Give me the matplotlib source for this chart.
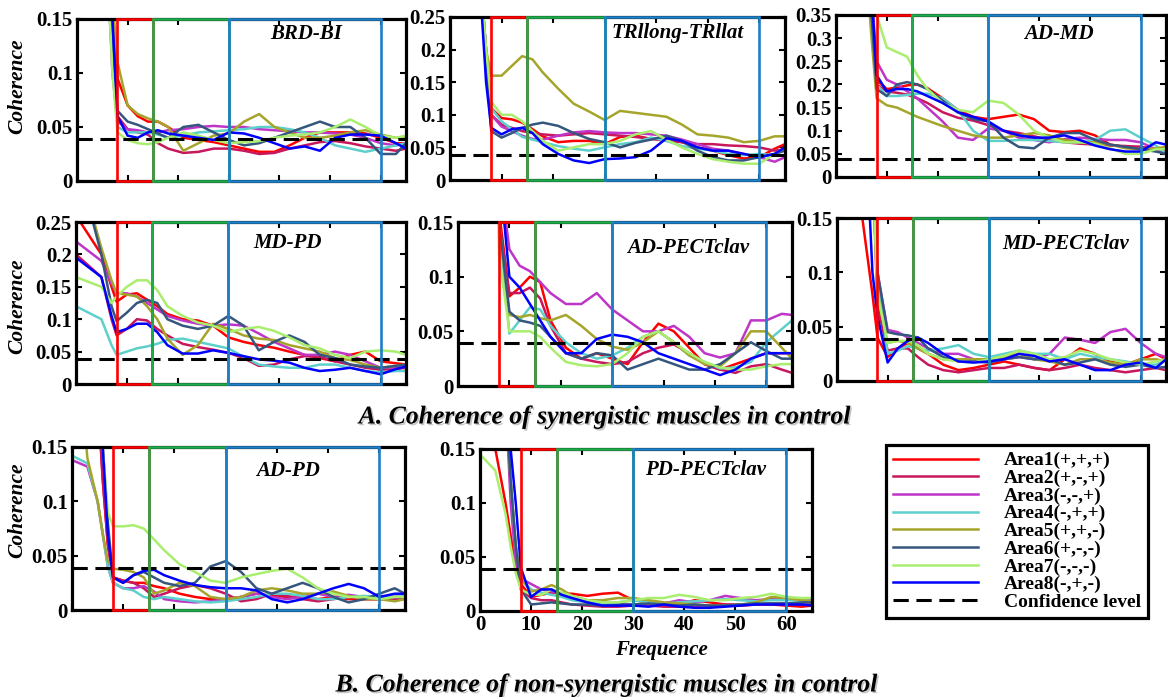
import numpy as np
import matplotlib
matplotlib.use('Agg')
import matplotlib.pyplot as plt
from matplotlib.patches import Rectangle
from matplotlib.lines import Line2D
from matplotlib import patheffects

plt.rcParams['font.family'] = ['Liberation Serif', 'DejaVu Serif']
plt.rcParams['font.weight'] = 'bold'

# legend entries and colours
area_labels = ['Area1(+,+,+)', 'Area2(+,-,+)', 'Area3(-,-,+)', 'Area4(-,+,+)',
               'Area5(+,+,-)', 'Area6(+,-,-)', 'Area7(-,-,-)', 'Area8(-,+,-)']
area_colors = ['#FF0000', '#C8175D', '#BE35C8', '#5ED0CC',
               '#A6A52B', '#35567E', '#A9EE6E', '#0000FF']
conf_level = 0.039

# frequency bands (Hz) drawn as boxes
bands = [(8, 15, '#FF0000'), (15, 30, '#1FAA4C'), (30, 60, '#1E7EC6')]

freq_a = [0, 5, 7, 8, 10, 12, 14, 16, 18, 21, 24, 27, 30, 33, 36, 39, 42, 45, 48, 51, 54, 57, 60, 63, 65]
freq_b = [0, 3, 5, 6, 7, 8, 10, 12, 14, 16, 18, 21, 24, 27, 30, 33, 36, 39, 42, 45, 48, 51, 54, 57, 60, 63, 65]

# coherence curves, one row per area (Area1..Area8)
brd_bi = [
    [0.6, 0.35, 0.16, 0.095, 0.07, 0.06, 0.055, 0.055, 0.05, 0.04, 0.038, 0.036, 0.033, 0.03, 0.027, 0.027, 0.033, 0.04, 0.045, 0.045, 0.045, 0.044, 0.04, 0.035, 0.035],
    [0.6, 0.35, 0.15, 0.06, 0.048, 0.045, 0.043, 0.035, 0.03, 0.026, 0.027, 0.03, 0.03, 0.028, 0.025, 0.026, 0.03, 0.033, 0.036, 0.037, 0.035, 0.032, 0.03, 0.028, 0.03],
    [0.6, 0.3, 0.1, 0.055, 0.048, 0.047, 0.045, 0.045, 0.047, 0.048, 0.05, 0.051, 0.05, 0.05, 0.048, 0.047, 0.046, 0.045, 0.045, 0.044, 0.043, 0.04, 0.035, 0.033, 0.035],
    [0.6, 0.3, 0.12, 0.05, 0.045, 0.045, 0.045, 0.043, 0.04, 0.042, 0.045, 0.046, 0.047, 0.048, 0.05, 0.05, 0.048, 0.045, 0.04, 0.033, 0.03, 0.027, 0.03, 0.033, 0.035],
    [0.6, 0.35, 0.17, 0.11, 0.07, 0.062, 0.058, 0.055, 0.05, 0.028, 0.035, 0.042, 0.044, 0.055, 0.062, 0.05, 0.045, 0.04, 0.04, 0.042, 0.045, 0.047, 0.043, 0.04, 0.04],
    [0.6, 0.3, 0.13, 0.065, 0.055, 0.052, 0.048, 0.044, 0.04, 0.05, 0.052, 0.045, 0.038, 0.033, 0.035, 0.04, 0.045, 0.05, 0.055, 0.05, 0.05, 0.04, 0.025, 0.025, 0.035],
    [0.6, 0.3, 0.1, 0.045, 0.038, 0.035, 0.034, 0.036, 0.04, 0.045, 0.042, 0.038, 0.035, 0.036, 0.037, 0.04, 0.042, 0.043, 0.045, 0.05, 0.057, 0.05, 0.042, 0.04, 0.042],
    [0.6, 0.35, 0.15, 0.06, 0.042, 0.04, 0.045, 0.047, 0.044, 0.042, 0.04, 0.038, 0.045, 0.044, 0.04, 0.035, 0.03, 0.032, 0.028, 0.04, 0.043, 0.043, 0.042, 0.035, 0.03],
]
trllong_trllat = [
    [0.6, 0.4, 0.2, 0.11, 0.095, 0.093, 0.088, 0.078, 0.067, 0.058, 0.06, 0.06, 0.055, 0.066, 0.068, 0.063, 0.065, 0.058, 0.05, 0.045, 0.038, 0.033, 0.035, 0.048, 0.055],
    [0.6, 0.4, 0.18, 0.1, 0.085, 0.08, 0.075, 0.072, 0.07, 0.068, 0.07, 0.072, 0.07, 0.068, 0.066, 0.063, 0.06, 0.058, 0.055, 0.055, 0.053, 0.052, 0.05, 0.045, 0.047],
    [0.6, 0.4, 0.2, 0.1, 0.082, 0.075, 0.068, 0.063, 0.062, 0.068, 0.073, 0.075, 0.073, 0.072, 0.072, 0.07, 0.068, 0.062, 0.055, 0.048, 0.045, 0.04, 0.035, 0.028, 0.035],
    [0.6, 0.4, 0.2, 0.11, 0.09, 0.078, 0.066, 0.062, 0.058, 0.052, 0.048, 0.045, 0.05, 0.055, 0.058, 0.065, 0.06, 0.052, 0.048, 0.045, 0.04, 0.038, 0.04, 0.038, 0.037],
    [0.6, 0.4, 0.2, 0.16, 0.16, 0.175, 0.19, 0.185, 0.165, 0.14, 0.117, 0.105, 0.092, 0.106, 0.103, 0.1, 0.097, 0.085, 0.07, 0.068, 0.065, 0.058, 0.06, 0.067, 0.067],
    [0.6, 0.4, 0.18, 0.075, 0.065, 0.072, 0.08, 0.085, 0.088, 0.083, 0.072, 0.063, 0.058, 0.05, 0.057, 0.062, 0.068, 0.06, 0.045, 0.035, 0.03, 0.03, 0.035, 0.04, 0.045],
    [0.6, 0.4, 0.2, 0.12, 0.1, 0.1, 0.09, 0.075, 0.06, 0.045, 0.05, 0.055, 0.055, 0.06, 0.07, 0.075, 0.062, 0.05, 0.04, 0.032, 0.028, 0.025, 0.025, 0.04, 0.05],
    [0.6, 0.4, 0.15, 0.08, 0.07, 0.078, 0.08, 0.072, 0.055, 0.04, 0.03, 0.026, 0.032, 0.033, 0.035, 0.045, 0.064, 0.06, 0.05, 0.045, 0.045, 0.04, 0.035, 0.04, 0.05],
]
ad_md = [
    [0.8, 0.6, 0.35, 0.21, 0.19, 0.193, 0.198, 0.2, 0.192, 0.17, 0.145, 0.13, 0.125, 0.13, 0.135, 0.125, 0.1, 0.097, 0.1, 0.09, 0.07, 0.065, 0.065, 0.06, 0.055],
    [0.8, 0.6, 0.35, 0.2, 0.185, 0.182, 0.178, 0.17, 0.16, 0.14, 0.128, 0.122, 0.112, 0.1, 0.095, 0.088, 0.08, 0.075, 0.072, 0.07, 0.068, 0.067, 0.065, 0.06, 0.055],
    [0.8, 0.6, 0.4, 0.25, 0.21, 0.2, 0.185, 0.17, 0.15, 0.12, 0.085, 0.08, 0.105, 0.1, 0.085, 0.08, 0.075, 0.082, 0.085, 0.082, 0.08, 0.08, 0.075, 0.06, 0.05],
    [0.8, 0.6, 0.35, 0.2, 0.175, 0.175, 0.177, 0.18, 0.18, 0.17, 0.145, 0.1, 0.078, 0.078, 0.08, 0.08, 0.078, 0.075, 0.075, 0.08, 0.1, 0.103, 0.085, 0.068, 0.05],
    [0.8, 0.6, 0.3, 0.17, 0.155, 0.15, 0.14, 0.13, 0.122, 0.11, 0.1, 0.09, 0.085, 0.085, 0.09, 0.095, 0.09, 0.08, 0.075, 0.075, 0.07, 0.062, 0.06, 0.062, 0.065],
    [0.8, 0.6, 0.35, 0.19, 0.175, 0.2, 0.205, 0.2, 0.19, 0.165, 0.14, 0.125, 0.12, 0.085, 0.065, 0.062, 0.085, 0.095, 0.095, 0.08, 0.07, 0.065, 0.06, 0.055, 0.05],
    [0.8, 0.6, 0.45, 0.35, 0.28, 0.27, 0.26, 0.22, 0.19, 0.16, 0.145, 0.14, 0.165, 0.16, 0.135, 0.1, 0.085, 0.075, 0.075, 0.072, 0.062, 0.05, 0.05, 0.06, 0.06],
    [0.8, 0.6, 0.4, 0.22, 0.185, 0.19, 0.19, 0.185, 0.175, 0.16, 0.14, 0.13, 0.12, 0.1, 0.09, 0.085, 0.085, 0.09, 0.08, 0.068, 0.06, 0.055, 0.055, 0.075, 0.07],
]
md_pd = [
    [0.26, 0.2, 0.15, 0.127, 0.138, 0.14, 0.13, 0.12, 0.108, 0.1, 0.098, 0.09, 0.072, 0.065, 0.06, 0.056, 0.05, 0.045, 0.04, 0.035, 0.045, 0.05, 0.035, 0.032, 0.03],
    [0.2, 0.165, 0.1, 0.075, 0.085, 0.1, 0.098, 0.085, 0.075, 0.062, 0.057, 0.053, 0.048, 0.04, 0.028, 0.03, 0.038, 0.043, 0.042, 0.035, 0.03, 0.025, 0.022, 0.023, 0.025],
    [0.22, 0.19, 0.155, 0.14, 0.14, 0.135, 0.125, 0.115, 0.105, 0.098, 0.093, 0.09, 0.092, 0.09, 0.078, 0.065, 0.055, 0.045, 0.045, 0.05, 0.045, 0.035, 0.025, 0.025, 0.028],
    [0.12, 0.1, 0.06, 0.045, 0.05, 0.055, 0.058, 0.062, 0.068, 0.07, 0.065, 0.06, 0.055, 0.042, 0.03, 0.027, 0.025, 0.025, 0.03, 0.03, 0.025, 0.02, 0.018, 0.02, 0.02],
    [0.35, 0.21, 0.16, 0.14, 0.138, 0.135, 0.12, 0.1, 0.07, 0.045, 0.06, 0.093, 0.085, 0.075, 0.07, 0.068, 0.06, 0.055, 0.05, 0.04, 0.037, 0.03, 0.025, 0.028, 0.03],
    [0.35, 0.2, 0.12, 0.097, 0.11, 0.125, 0.13, 0.125, 0.1, 0.09, 0.085, 0.09, 0.105, 0.09, 0.052, 0.065, 0.075, 0.065, 0.045, 0.04, 0.03, 0.027, 0.025, 0.028, 0.03],
    [0.165, 0.15, 0.125, 0.135, 0.15, 0.16, 0.16, 0.145, 0.12, 0.105, 0.095, 0.09, 0.08, 0.085, 0.088, 0.082, 0.072, 0.06, 0.055, 0.045, 0.04, 0.05, 0.052, 0.05, 0.045],
    [0.195, 0.165, 0.105, 0.08, 0.085, 0.093, 0.093, 0.08, 0.06, 0.047, 0.047, 0.052, 0.048, 0.043, 0.038, 0.036, 0.033, 0.025, 0.02, 0.022, 0.025, 0.02, 0.015, 0.023, 0.027],
]
ad_pectclav = [
    [0.6, 0.5, 0.3, 0.16, 0.082, 0.09, 0.1, 0.095, 0.06, 0.035, 0.025, 0.03, 0.025, 0.02, 0.04, 0.057, 0.05, 0.035, 0.02, 0.015, 0.02, 0.025, 0.03, 0.03, 0.03],
    [0.6, 0.5, 0.3, 0.15, 0.085, 0.085, 0.09, 0.08, 0.055, 0.03, 0.025, 0.022, 0.02, 0.022, 0.03, 0.035, 0.038, 0.03, 0.02, 0.015, 0.012, 0.018, 0.02, 0.015, 0.012],
    [0.6, 0.5, 0.3, 0.2, 0.125, 0.11, 0.105, 0.095, 0.085, 0.075, 0.075, 0.085, 0.07, 0.06, 0.05, 0.05, 0.055, 0.045, 0.03, 0.026, 0.03, 0.06, 0.06, 0.066, 0.065],
    [0.6, 0.5, 0.3, 0.15, 0.048, 0.06, 0.072, 0.07, 0.055, 0.04, 0.03, 0.025, 0.028, 0.035, 0.045, 0.05, 0.04, 0.028, 0.022, 0.016, 0.017, 0.022, 0.04, 0.052, 0.06],
    [0.6, 0.5, 0.3, 0.15, 0.065, 0.063, 0.065, 0.062, 0.06, 0.065, 0.055, 0.043, 0.036, 0.033, 0.04, 0.05, 0.04, 0.028, 0.02, 0.018, 0.03, 0.05, 0.05, 0.035, 0.025],
    [0.6, 0.5, 0.3, 0.15, 0.068, 0.06, 0.058, 0.055, 0.045, 0.03, 0.025, 0.03, 0.028, 0.015, 0.02, 0.025, 0.02, 0.015, 0.015, 0.02, 0.03, 0.04, 0.032, 0.025, 0.025],
    [0.6, 0.5, 0.3, 0.12, 0.05, 0.05, 0.05, 0.045, 0.035, 0.022, 0.019, 0.018, 0.02, 0.03, 0.045, 0.05, 0.04, 0.03, 0.022, 0.017, 0.015, 0.015, 0.018, 0.02, 0.02],
    [0.6, 0.5, 0.4, 0.2, 0.1, 0.09, 0.075, 0.06, 0.045, 0.03, 0.03, 0.043, 0.047, 0.045, 0.04, 0.03, 0.025, 0.02, 0.015, 0.01, 0.015, 0.025, 0.03, 0.03, 0.03],
]
md_pectclav = [
    [0.6, 0.15, 0.08, 0.04, 0.022, 0.03, 0.035, 0.03, 0.025, 0.015, 0.01, 0.012, 0.015, 0.018, 0.015, 0.012, 0.01, 0.02, 0.03, 0.025, 0.018, 0.015, 0.02, 0.025, 0.02],
    [0.6, 0.4, 0.2, 0.07, 0.028, 0.03, 0.03, 0.022, 0.015, 0.01, 0.008, 0.01, 0.012, 0.012, 0.015, 0.012, 0.01, 0.012, 0.015, 0.012, 0.01, 0.008, 0.01, 0.012, 0.01],
    [0.6, 0.4, 0.2, 0.1, 0.047, 0.045, 0.04, 0.035, 0.03, 0.025, 0.025, 0.02, 0.018, 0.02, 0.022, 0.02, 0.025, 0.04, 0.038, 0.035, 0.045, 0.048, 0.035, 0.025, 0.022],
    [0.6, 0.4, 0.2, 0.1, 0.025, 0.028, 0.032, 0.03, 0.028, 0.03, 0.033, 0.025, 0.022, 0.025, 0.028, 0.025, 0.025, 0.02, 0.025, 0.022, 0.02, 0.018, 0.015, 0.015, 0.02],
    [0.6, 0.4, 0.2, 0.08, 0.035, 0.037, 0.035, 0.03, 0.025, 0.02, 0.02, 0.02, 0.02, 0.022, 0.025, 0.02, 0.018, 0.015, 0.02, 0.02, 0.017, 0.015, 0.02, 0.02, 0.018],
    [0.6, 0.4, 0.2, 0.1, 0.045, 0.043, 0.042, 0.04, 0.03, 0.022, 0.018, 0.018, 0.017, 0.02, 0.022, 0.02, 0.02, 0.015, 0.017, 0.02, 0.015, 0.013, 0.015, 0.012, 0.013],
    [0.6, 0.4, 0.2, 0.08, 0.035, 0.037, 0.037, 0.033, 0.025, 0.02, 0.018, 0.017, 0.02, 0.023, 0.028, 0.025, 0.02, 0.022, 0.028, 0.025, 0.02, 0.017, 0.015, 0.018, 0.02],
    [0.6, 0.3, 0.1, 0.06, 0.017, 0.03, 0.037, 0.04, 0.035, 0.025, 0.018, 0.017, 0.018, 0.02, 0.025, 0.023, 0.018, 0.02, 0.015, 0.01, 0.01, 0.015, 0.017, 0.012, 0.02],
]
ad_pd = [
    [0.4, 0.3, 0.2, 0.12, 0.06, 0.03, 0.027, 0.025, 0.025, 0.022, 0.02, 0.015, 0.012, 0.01, 0.01, 0.012, 0.015, 0.013, 0.012, 0.012, 0.01, 0.012, 0.01, 0.01, 0.01, 0.012, 0.012],
    [0.4, 0.3, 0.2, 0.12, 0.06, 0.03, 0.027, 0.025, 0.02, 0.012, 0.015, 0.02, 0.023, 0.02, 0.015, 0.008, 0.01, 0.015, 0.013, 0.01, 0.008, 0.01, 0.012, 0.01, 0.01, 0.01, 0.01],
    [0.138, 0.132, 0.1, 0.07, 0.04, 0.025, 0.02, 0.02, 0.022, 0.017, 0.01, 0.008, 0.007, 0.008, 0.01, 0.012, 0.015, 0.012, 0.01, 0.012, 0.015, 0.012, 0.014, 0.012, 0.013, 0.012, 0.012],
    [0.142, 0.135, 0.1, 0.07, 0.04, 0.025, 0.02, 0.018, 0.012, 0.01, 0.012, 0.01, 0.008, 0.007, 0.008, 0.01, 0.012, 0.015, 0.015, 0.013, 0.01, 0.01, 0.012, 0.013, 0.012, 0.012, 0.013],
    [0.3, 0.14, 0.1, 0.07, 0.045, 0.038, 0.037, 0.035, 0.03, 0.015, 0.018, 0.025, 0.022, 0.012, 0.01, 0.012, 0.018, 0.02, 0.018, 0.015, 0.015, 0.017, 0.013, 0.01, 0.01, 0.008, 0.01],
    [0.4, 0.3, 0.25, 0.15, 0.08, 0.03, 0.025, 0.032, 0.035, 0.03, 0.025, 0.022, 0.025, 0.04, 0.045, 0.035, 0.02, 0.015, 0.02, 0.025, 0.02, 0.012, 0.007, 0.01, 0.015, 0.02, 0.015],
    [0.5, 0.4, 0.3, 0.15, 0.09, 0.077, 0.077, 0.078, 0.075, 0.065, 0.055, 0.042, 0.035, 0.027, 0.025, 0.03, 0.033, 0.036, 0.038, 0.03, 0.02, 0.015, 0.012, 0.012, 0.01, 0.012, 0.012],
    [0.4, 0.3, 0.25, 0.15, 0.07, 0.03, 0.025, 0.032, 0.036, 0.037, 0.032, 0.027, 0.023, 0.021, 0.02, 0.02, 0.018, 0.01, 0.007, 0.01, 0.015, 0.02, 0.024, 0.02, 0.012, 0.015, 0.015],
]
pd_pectclav = [
    [0.3, 0.15, 0.1, 0.07, 0.04, 0.025, 0.013, 0.015, 0.017, 0.016, 0.016, 0.014, 0.016, 0.017, 0.01, 0.008, 0.005, 0.006, 0.01, 0.008, 0.006, 0.005, 0.006, 0.006, 0.005, 0.004, 0.005],
    [0.5, 0.3, 0.2, 0.12, 0.06, 0.02, 0.012, 0.01, 0.01, 0.008, 0.006, 0.005, 0.004, 0.004, 0.005, 0.005, 0.004, 0.004, 0.005, 0.005, 0.006, 0.006, 0.006, 0.007, 0.007, 0.006, 0.006],
    [0.5, 0.3, 0.2, 0.1, 0.045, 0.03, 0.025, 0.02, 0.018, 0.015, 0.012, 0.01, 0.008, 0.007, 0.006, 0.006, 0.007, 0.01, 0.008, 0.01, 0.014, 0.012, 0.01, 0.011, 0.012, 0.011, 0.01],
    [0.5, 0.3, 0.2, 0.12, 0.06, 0.03, 0.02, 0.017, 0.015, 0.013, 0.01, 0.008, 0.007, 0.008, 0.01, 0.008, 0.007, 0.008, 0.009, 0.01, 0.011, 0.01, 0.009, 0.01, 0.01, 0.01, 0.009],
    [0.5, 0.3, 0.2, 0.12, 0.06, 0.03, 0.018, 0.02, 0.024, 0.02, 0.014, 0.01, 0.01, 0.012, 0.012, 0.01, 0.008, 0.007, 0.006, 0.005, 0.005, 0.006, 0.008, 0.013, 0.012, 0.01, 0.009],
    [0.5, 0.3, 0.2, 0.12, 0.06, 0.02, 0.006, 0.007, 0.008, 0.007, 0.006, 0.006, 0.005, 0.006, 0.006, 0.007, 0.006, 0.005, 0.006, 0.005, 0.005, 0.006, 0.007, 0.007, 0.007, 0.008, 0.008],
    [0.145, 0.13, 0.09, 0.06, 0.035, 0.02, 0.015, 0.015, 0.02, 0.017, 0.014, 0.01, 0.008, 0.008, 0.01, 0.012, 0.012, 0.015, 0.013, 0.01, 0.01, 0.012, 0.013, 0.016, 0.013, 0.012, 0.012],
    [0.6, 0.4, 0.25, 0.15, 0.1, 0.04, 0.013, 0.02, 0.02, 0.015, 0.012, 0.008, 0.005, 0.005, 0.005, 0.004, 0.006, 0.004, 0.003, 0.003, 0.004, 0.005, 0.006, 0.006, 0.006, 0.006, 0.005],
]

# layout in pixels of the 1168x697 canvas: (left, top, right, bottom)
W, H = 1168, 697
panels = [
    ('BRD-BI', brd_bi, freq_a, 0.15, (77, 19, 406, 181), (0.695, 0.91)),
    ('TRllong-TRllat', trllong_trllat, freq_a, 0.25, (450, 17, 785, 180), (0.68, 0.90)),
    ('AD-MD', ad_md, freq_a, 0.35, (836, 15, 1166, 177), (0.675, 0.88)),
    ('MD-PD', md_pd, freq_a, 0.25, (76, 222, 406, 384), (0.64, 0.87)),
    ('AD-PECTclav', ad_pectclav, freq_a, 0.15, (458, 222, 792, 386), (0.69, 0.84)),
    ('MD-PECTclav', md_pectclav, freq_a, 0.15, (837, 218, 1166, 381), (0.695, 0.84)),
    ('AD-PD', ad_pd, freq_b, 0.15, (72, 447, 405, 610), (0.65, 0.85)),
    ('PD-PECTclav', pd_pectclav, freq_b, 0.15, (480, 449, 812, 611), (0.68, 0.87)),
]


def ytick_fmt(v, pos):
    if abs(v) < 1e-9:
        return '0'
    return f'{v:.2f}'.rstrip('0').rstrip('.')


fig = plt.figure(figsize=(W / 100, H / 100), dpi=100)
conf_style = (0, (5, 2.5))

for name, curves, freq, ymax, (l, t, r, b), tpos in panels:
    ax = fig.add_axes([l / W, 1 - b / H, (r - l) / W, (b - t) / H])
    for vals, col in zip(curves, area_colors):
        ax.plot(freq, vals, color=col, lw=1.8, zorder=2)
    ax.axhline(conf_level, color='black', ls=conf_style, lw=2.2, zorder=3)
    for lo, hi, col in bands:
        ax.add_patch(Rectangle((lo, 0), hi - lo, ymax, fill=False, ec=col,
                               lw=1.9, zorder=5, clip_on=False))
    ax.set_xlim(0, 65)
    ax.set_ylim(0, ymax)
    ax.set_xticks(range(0, 61, 10))
    ax.set_yticks(np.arange(0, ymax + 1e-6, 0.05))
    ax.yaxis.set_major_formatter(plt.FuncFormatter(ytick_fmt))
    ax.tick_params(direction='in', top=True, right=True, length=4, width=1.5,
                   labelsize=15, pad=3)
    if name != 'PD-PECTclav':
        ax.tick_params(labelbottom=False)
    for s in ax.spines.values():
        s.set_linewidth(2.3)
    ax.text(tpos[0], tpos[1], name, transform=ax.transAxes, ha='center', va='center',
            fontsize=15, fontweight='bold', fontstyle='italic')

# y labels for the left column
for yc in (86, 306, 510):
    fig.text(17 / W, 1 - yc / H, 'Coherence', rotation=90, ha='center', va='center',
             fontsize=15.5, fontweight='bold', fontstyle='italic')

fig.text(661 / W, 1 - 650 / H, 'Frequence', ha='center', va='center',
         fontsize=15, fontweight='bold', fontstyle='italic')

shadow = [patheffects.withSimplePatchShadow(offset=(1.2, -1.2), shadow_rgbFace='0.55', alpha=0.5)]
fig.text(605 / W, 1 - 417 / H, 'A. Coherence of synergistic muscles in control',
         ha='center', va='center', fontsize=18.5, fontweight='bold', fontstyle='italic',
         path_effects=shadow)
fig.text(607 / W, 1 - 685 / H, 'B. Coherence of non-synergistic muscles in control',
         ha='center', va='center', fontsize=18.5, fontweight='bold', fontstyle='italic',
         path_effects=shadow)

handles = [Line2D([], [], color=c, lw=1.8) for c in area_colors]
handles.append(Line2D([], [], color='black', ls=conf_style, lw=2.2))
leg = fig.legend(handles, area_labels + ['Confidence level'], loc='upper left',
                 bbox_to_anchor=(886 / W, 1 - 445 / H), borderaxespad=0, fontsize=14,
                 labelspacing=0.0, handlelength=4.4, handletextpad=1.3,
                 borderpad=0.35, fancybox=False, framealpha=1, edgecolor='black')
leg.get_frame().set_linewidth(2.3)

fig.savefig('out.png', dpi=100)
